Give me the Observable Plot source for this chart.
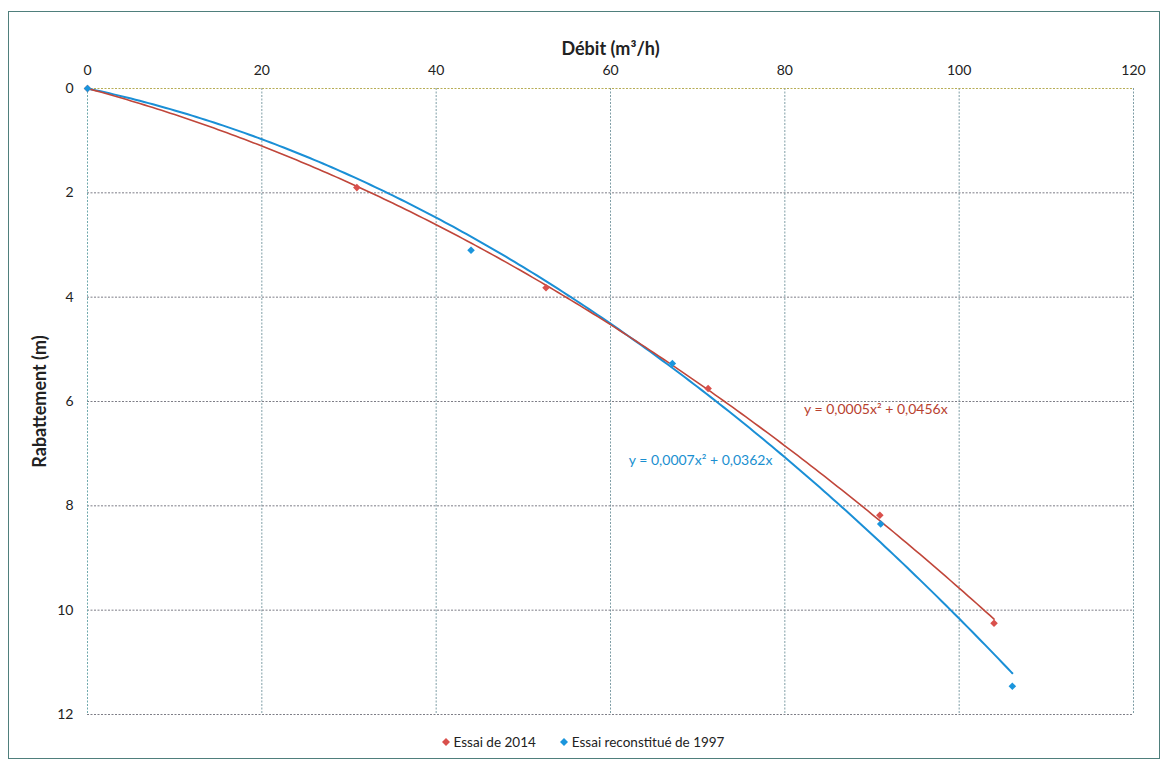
<!DOCTYPE html>
<html lang="fr">
<head>
<meta charset="utf-8">
<script src="https://cdn.jsdelivr.net/npm/d3@7"></script>
<script src="https://cdn.jsdelivr.net/npm/@observablehq/plot@0.6"></script>
<style>
  html, body { margin: 0; padding: 0; background: #fff; }
  body { width: 1166px; height: 764px; position: relative; overflow: hidden; font-family: Lato, "Open Sans", sans-serif; }
  #frame { position: absolute; left: 8px; top: 11px; width: 1152px; height: 748px; border: 1px solid #4f7f7c; box-sizing: border-box; }
  #chart { position: absolute; left: 0; top: 0; }
  #legend { position: absolute; left: 0; top: 734px; width: 1166px; display: flex; justify-content: center; gap: 24px; font-size: 13.5px; color: #222; }
  #legend span.item { display: inline-flex; align-items: center; gap: 4px; }
  #legend svg { display: block; }
</style>
</head>
<body>
<div id="frame"></div>
<div id="chart"></div>
<div id="legend"></div>
<script>
// Pumping test: flow rate (m³/h) against drawdown (m)
const debit2014 = [0, 30.9, 52.6, 71.2, 90.9, 104.0];
const rabat2014 = [0, 1.90, 3.82, 5.75, 8.18, 10.25];
const debit1997 = [0, 44.0, 67.1, 91.0, 106.1];
const rabat1997 = [0, 3.10, 5.27, 8.35, 11.46];

const seriesNames = ["Essai de 2014", "Essai reconstitué de 1997"];
const equations = ["y = 0,0005x² + 0,0456x", "y = 0,0007x² + 0,0362x"];
const xTicks = [0, 20, 40, 60, 80, 100, 120];
const yTicks = [0, 2, 4, 6, 8, 10, 12];

const pointColors = ["#d9504c", "#1b95dc"];
const curveColors = ["#c0463a", "#1a8fd6"];
const eqColors = ["#b8412f", "#1a8fd0"];

// Quadratic trend through the origin: y = a·x² + b·x (least squares)
function fitQuadratic(xs, ys) {
  let s4 = 0, s3 = 0, s2 = 0, sx2y = 0, sxy = 0;
  xs.forEach((x, i) => {
    const y = ys[i];
    s4 += x ** 4; s3 += x ** 3; s2 += x ** 2;
    sx2y += x * x * y; sxy += x * y;
  });
  const det = s4 * s2 - s3 * s3;
  return [(sx2y * s2 - sxy * s3) / det, (s4 * sxy - s3 * sx2y) / det];
}

function trend(xs, ys, series) {
  const [a, b] = fitQuadratic(xs, ys);
  const xmax = d3.max(xs);
  return d3.range(0, xmax, 0.5).concat([xmax]).map(x => ({x, y: a * x * x + b * x, series}));
}

const points = [
  ...debit2014.map((x, i) => ({x, y: rabat2014[i], series: seriesNames[0]})),
  ...debit1997.map((x, i) => ({x, y: rabat1997[i], series: seriesNames[1]}))
];
const curves = [
  trend(debit2014, rabat2014, seriesNames[0]),
  trend(debit1997, rabat1997, seriesNames[1])
];

const chart = Plot.plot({
  width: 1166,
  height: 730,
  marginLeft: 87,
  marginRight: 33,
  marginTop: 88,
  marginBottom: 16,
  style: {fontFamily: "Lato, 'Open Sans', sans-serif", fontSize: "14px", color: "#222", background: "transparent", overflow: "visible"},
  x: {domain: [0, 120]},
  y: {domain: [0, 12], reverse: true},
  color: {domain: seriesNames, range: pointColors},
  marks: [
    // grid
    Plot.gridX(xTicks.filter(t => t > 0), {stroke: "#7f9ea6", strokeOpacity: 1, strokeDasharray: "2,1.5", strokeWidth: 1}),
    Plot.gridY(yTicks.filter(t => t > 0), {stroke: "#7d7d86", strokeOpacity: 1, strokeDasharray: "2,1.5", strokeWidth: 1}),
    Plot.ruleX([0], {stroke: "#6fa9ad", strokeDasharray: "2,1.5", strokeWidth: 1}),
    Plot.ruleY([0], {stroke: "#b7ad55", strokeDasharray: "2,1.5", strokeWidth: 1}),
    // axes
    Plot.axisX(xTicks, {anchor: "top", tickSize: 0, tickPadding: 14, label: null, fontSize: 14, tickFormat: d3.format("d")}),
    Plot.axisY(yTicks, {anchor: "left", tickSize: 0, tickPadding: 14, label: null, fontSize: 14, tickFormat: d3.format("d")}),
    Plot.text(["Débit (m³/h)"], {frameAnchor: "top", dy: -46, fontSize: 18, fontWeight: "bold", fill: "#222"}),
    Plot.text(["Rabattement (m)"], {frameAnchor: "left", textAnchor: "middle", dx: -47, rotate: -90, fontSize: 18, fontWeight: "bold", fill: "#222"}),
    // trend curves
    Plot.line(curves[1], {x: "x", y: "y", stroke: curveColors[1], strokeWidth: 2, curve: "linear"}),
    Plot.line(curves[0], {x: "x", y: "y", stroke: curveColors[0], strokeWidth: 1.6, curve: "linear"}),
    // measured points
    Plot.dot(points, {x: "x", y: "y", fill: "series", symbol: "diamond2", r: 3.4, stroke: "none"}),
    // trend equations
    Plot.text([equations[0]], {x: 82.2, y: 6.15, textAnchor: "start", fill: eqColors[0], fontSize: 14}),
    Plot.text([equations[1]], {x: 62.1, y: 7.13, textAnchor: "start", fill: eqColors[1], fontSize: 14})
  ]
});
document.getElementById("chart").appendChild(chart);

// legend below the chart
const legend = d3.select("#legend");
seriesNames.forEach((name, i) => {
  const item = legend.append("span").attr("class", "item");
  const s = item.append("svg").attr("width", 8).attr("height", 8);
  s.append("path").attr("d", "M4,0L8,4L4,8L0,4Z").attr("fill", pointColors[i]);
  item.append("span").text(name);
});
</script>
</body>
</html>
